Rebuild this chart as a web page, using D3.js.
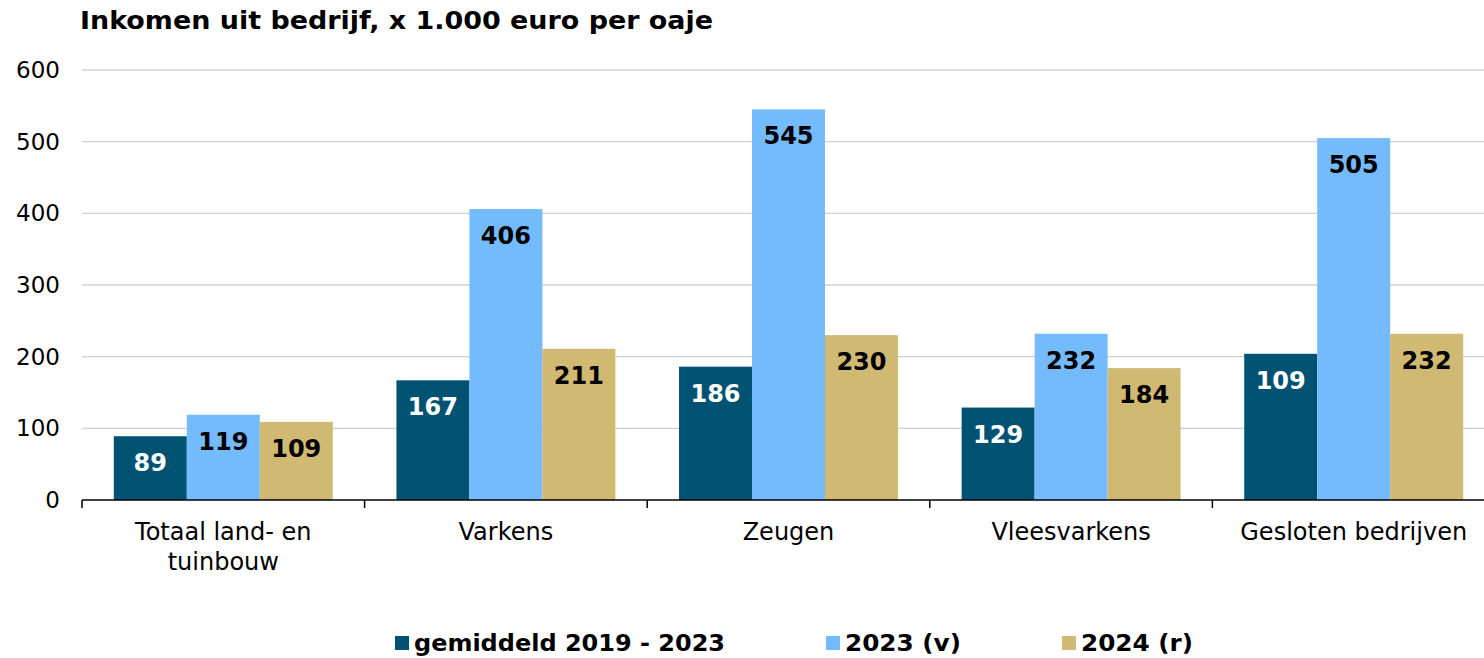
<!DOCTYPE html>
<html>
<head>
<meta charset="utf-8">
<script src="https://cdn.jsdelivr.net/npm/d3@7"></script>
<style>
  body { margin: 0; background: #fff; }
  text { font-family: "DejaVu Sans", Verdana, sans-serif; }
</style>
</head>
<body>
<svg id="chart" width="1484" height="658"></svg>
<script>

// ===========================//
// DATA
// ===========================//

var categories = ["Totaal land- en\ntuinbouw", "Varkens", "Zeugen", "Vleesvarkens", "Gesloten bedrijven"]
var series = ["gemiddeld 2019 - 2023", "2023 (v)", "2024 (r)"]

// bar heights
var gemiddeld = [89, 167, 186, 129, 204]
var jaar2023 = [119, 406, 545, 232, 505]
var jaar2024 = [109, 211, 230, 184, 232]

// labels as printed on the bars
var labelsGemiddeld = ["89", "167", "186", "129", "109"]
var labels2023 = ["119", "406", "545", "232", "505"]
var labels2024 = ["109", "211", "230", "184", "232"]

var yTicks = [0, 100, 200, 300, 400, 500, 600]

var colors = ["#005273", "#74bbfd", "#d0b972"]
var labelColors = ["#ffffff", "#000000", "#000000"]

var values = [gemiddeld, jaar2023, jaar2024]
var labels = [labelsGemiddeld, labels2023, labels2024]

// ===========================//
// SCALES
// ===========================//

var svg = d3.select("#chart")
var plotLeft = 82, plotRight = 1495, plotTop = 70, plotBottom = 500

var x = d3.scaleBand()
  .domain(categories)
  .range([plotLeft, plotRight])
  .paddingInner(0)
  .paddingOuter(0)

var xInner = d3.scaleBand()
  .domain(series)
  .range([0, x.bandwidth()])
  .paddingInner(0)
  .paddingOuter(0.436)

var y = d3.scaleLinear()
  .domain([0, 600])
  .range([plotBottom, plotTop])

// ===========================//
// TITLE
// ===========================//

svg.append("text")
  .attr("x", 80)
  .attr("y", 29)
  .attr("font-size", 24)
  .attr("font-weight", "bold")
  .attr("textLength", 633)
  .attr("lengthAdjust", "spacingAndGlyphs")
  .text("Inkomen uit bedrijf, x 1.000 euro per oaje")

// ===========================//
// GRID + Y AXIS
// ===========================//

svg.append("g")
  .selectAll("line")
  .data(yTicks.filter(function(d){ return d > 0 }))
  .enter()
  .append("line")
    .attr("x1", plotLeft)
    .attr("x2", 1484)
    .attr("y1", function(d){ return y(d) })
    .attr("y2", function(d){ return y(d) })
    .attr("stroke", "#d0d0d0")
    .attr("stroke-width", 1.3)

svg.append("g")
  .selectAll("text")
  .data(yTicks)
  .enter()
  .append("text")
    .attr("x", 60)
    .attr("y", function(d){ return y(d) + 8 })
    .attr("text-anchor", "end")
    .attr("font-size", 23)
    .text(function(d){ return d })

// ===========================//
// BARS
// ===========================//

var groups = svg.append("g")
  .selectAll("g")
  .data(categories)
  .enter()
  .append("g")
    .attr("transform", function(d){ return "translate(" + x(d) + ",0)" })

series.forEach(function(s, si){
  groups.append("rect")
    .attr("x", xInner(s))
    .attr("width", xInner.bandwidth())
    .attr("y", function(d, i){ return y(values[si][i]) })
    .attr("height", function(d, i){ return plotBottom - y(values[si][i]) })
    .attr("fill", colors[si])

  groups.append("text")
    .attr("x", xInner(s) + xInner.bandwidth() / 2)
    .attr("y", function(d, i){ return y(values[si][i]) + 35 })
    .attr("text-anchor", "middle")
    .attr("font-size", 24)
    .attr("font-weight", "bold")
    .attr("fill", labelColors[si])
    .text(function(d, i){ return labels[si][i] })
})

// ===========================//
// X AXIS
// ===========================//

svg.append("line")
  .attr("x1", plotLeft)
  .attr("x2", 1484)
  .attr("y1", plotBottom)
  .attr("y2", plotBottom)
  .attr("stroke", "#000")
  .attr("stroke-width", 1.5)

svg.append("g")
  .selectAll("line")
  .data(categories)
  .enter()
  .append("line")
    .attr("x1", function(d){ return x(d) })
    .attr("x2", function(d){ return x(d) })
    .attr("y1", plotBottom)
    .attr("y2", plotBottom + 8)
    .attr("stroke", "#000")
    .attr("stroke-width", 1.5)

var xLabels = svg.append("g")
  .selectAll("text")
  .data(categories)
  .enter()
  .append("text")
    .attr("text-anchor", "middle")
    .attr("font-size", 24)

xLabels.selectAll("tspan")
  .data(function(d){ return d.split("\n").map(function(t){ return {t: t, c: d} }) })
  .enter()
  .append("tspan")
    .attr("x", function(d){ return x(d.c) + x.bandwidth() / 2 })
    .attr("y", function(d, i){ return 540 + i * 30 })
    .text(function(d){ return d.t })

// ===========================//
// LEGEND
// ===========================//

var legendX = [395, 826, 1062]
var legendW = [311, 116, 112]

var legend = svg.append("g")
  .selectAll("g")
  .data(series)
  .enter()
  .append("g")
    .attr("transform", function(d, i){ return "translate(" + legendX[i] + ",636)" })

legend.append("rect")
  .attr("width", 14)
  .attr("height", 14)
  .attr("fill", function(d, i){ return colors[i] })

legend.append("text")
  .attr("x", 19)
  .attr("y", 15)
  .attr("font-size", 23)
  .attr("font-weight", "bold")
  .attr("textLength", function(d, i){ return legendW[i] })
  .attr("lengthAdjust", "spacingAndGlyphs")
  .text(function(d){ return d })

</script>
</body>
</html>
